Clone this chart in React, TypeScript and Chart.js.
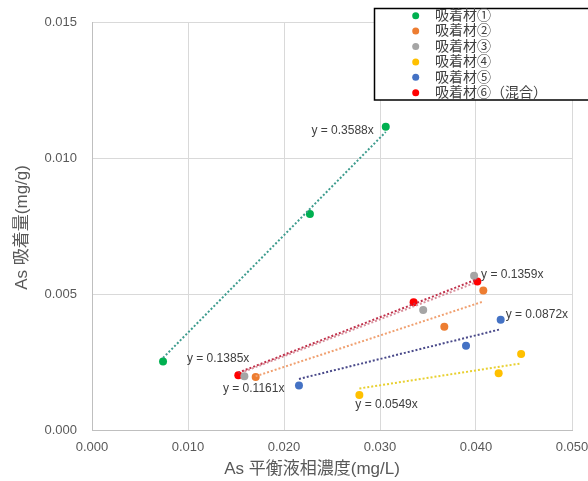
import { useEffect, useRef } from 'react';
import { Chart, registerables } from 'chart.js';

Chart.register(...registerables);

const FONT = '"Liberation Sans", "Noto Sans CJK JP", sans-serif';

// ---- data ----
const seriesNames = ['吸着材①', '吸着材②', '吸着材③', '吸着材④', '吸着材⑤', '吸着材⑥（混合）'];
const s1X = [0.0074, 0.0227, 0.0306];
const s1Y = [0.00252, 0.00796, 0.01117];
const s2X = [0.01705, 0.0367, 0.04076];
const s2Y = [0.00195, 0.0038, 0.00514];
const s3X = [0.01587, 0.0345, 0.0398];
const s3Y = [0.00198, 0.00442, 0.00568];
const s4X = [0.02785, 0.04236, 0.0447];
const s4Y = [0.00129, 0.00209, 0.0028];
const s5X = [0.02156, 0.03896, 0.04257];
const s5Y = [0.00164, 0.0031, 0.00406];
const s6X = [0.01524, 0.0335, 0.04014];
const s6Y = [0.00202, 0.00471, 0.00547];
const slopes = [0.3588, 0.1161, 0.1359, 0.0549, 0.0872, 0.1385];
const slopeLabels = ['y = 0.3588x', 'y = 0.1161x', 'y = 0.1359x', 'y = 0.0549x', 'y = 0.0872x', 'y = 0.1385x'];
const xTitle = 'As 平衡液相濃度(mg/L)';
const yTitle = 'As 吸着量(mg/g)';

// ---- styles ----
const pointColors = ['#00B050', '#ED7D31', '#A5A5A5', '#FFC000', '#4472C4', '#FF0000'];
const trendColors = ['#3E9C8E', '#F0A070', '#D8909C', '#E8D030', '#4A4A8A', '#C0304A'];
// label anchor: which end of trend line, alignment, pixel offsets
const labelAnchors = [
  { end: 'max', align: 'right', dx: -12, dy: -1 },
  { end: 'min', align: 'center', dx: -2, dy: 12 },
  { end: 'max', align: 'left', dx: 7, dy: -8 },
  { end: 'min', align: 'left', dx: -4, dy: 16 },
  { end: 'max', align: 'left', dx: 5, dy: -15 },
  { end: 'min', align: 'right', dx: 11, dy: -14 },
];

const xsAll = [s1X, s2X, s3X, s4X, s5X, s6X];
const ysAll = [s1Y, s2Y, s3Y, s4Y, s5Y, s6Y];

export default function App() {
  const ref = useRef<HTMLCanvasElement>(null);

  useEffect(() => {
    const canvas = ref.current!;
    const trendDatasets = xsAll.map((xs, i) => {
      const minX = Math.min(...xs);
      const maxX = Math.max(...xs);
      return {
        label: 'trend' + i,
        data: [
          { x: minX, y: slopes[i] * minX },
          { x: maxX, y: slopes[i] * maxX },
        ],
        showLine: true,
        borderColor: trendColors[i],
        backgroundColor: trendColors[i],
        borderWidth: 2,
        borderDash: [2, 2],
        pointRadius: 0,
        fill: false,
      };
    });
    const pointDatasets = xsAll.map((xs, i) => ({
      label: seriesNames[i],
      data: xs.map((x, j) => ({ x, y: ysAll[i][j] })),
      showLine: false,
      backgroundColor: pointColors[i],
      borderColor: pointColors[i],
      borderWidth: 0,
      pointRadius: 4,
    }));

    const overlay = {
      id: 'overlay',
      afterDraw(chart: any) {
        const ctx = chart.ctx;
        const xs = chart.scales.x;
        const ys = chart.scales.y;
        const ca = chart.chartArea;
        ctx.save();
        // trendline labels
        ctx.font = '12px ' + FONT;
        ctx.fillStyle = '#404040';
        ctx.textBaseline = 'middle';
        xsAll.forEach((xv, i) => {
          const a = labelAnchors[i];
          const x = a.end === 'max' ? Math.max(...xv) : Math.min(...xv);
          const px = xs.getPixelForValue(x);
          const py = ys.getPixelForValue(slopes[i] * x);
          ctx.textAlign = a.align;
          ctx.fillText(slopeLabels[i], px + a.dx, py + a.dy);
        });
        // axis titles
        ctx.fillStyle = '#595959';
        ctx.font = '17px ' + FONT;
        ctx.textAlign = 'center';
        ctx.textBaseline = 'middle';
        ctx.fillText(xTitle, (ca.left + ca.right) / 2 - 20, 469);
        ctx.save();
        ctx.translate(22, (ca.top + ca.bottom) / 2 + 1);
        ctx.rotate(-Math.PI / 2);
        ctx.fillText(yTitle, 0, 0);
        ctx.restore();
        // legend
        ctx.fillStyle = '#ffffff';
        ctx.fillRect(374.5, 8.5, 220, 91.5);
        ctx.strokeStyle = '#000000';
        ctx.lineWidth = 1.5;
        ctx.strokeRect(374.5, 8.5, 220, 91.5);
        ctx.font = '14px ' + FONT;
        ctx.textAlign = 'left';
        ctx.textBaseline = 'middle';
        seriesNames.forEach((name, i) => {
          const y = 15.7 + i * 15.4;
          ctx.beginPath();
          ctx.arc(415.7, y, 3.5, 0, Math.PI * 2);
          ctx.fillStyle = pointColors[i];
          ctx.fill();
          ctx.fillStyle = '#404040';
          ctx.fillText(name, 435, y + 0.5);
        });
        ctx.restore();
      },
    };

    const chart = new Chart(canvas, {
      type: 'scatter',
      data: { datasets: [...trendDatasets, ...pointDatasets] as any },
      options: {
        responsive: false,
        animation: false,
        layout: { padding: { top: 20, right: 16, left: 0, bottom: 0 } },
        plugins: { legend: { display: false }, tooltip: { enabled: false } },
        scales: {
          x: {
            type: 'linear',
            min: 0,
            max: 0.05,
            ticks: {
              stepSize: 0.01,
              callback: (v: any) => Number(v).toFixed(3),
              font: { size: 13, family: FONT },
              color: '#595959',
              padding: 10,
            },
            grid: { color: '#D9D9D9', drawTicks: false },
            border: { color: '#BFBFBF' },
            afterFit: (s: any) => { s.height = 51; s.paddingRight = 0; s.paddingLeft = 0; },
          },
          y: {
            type: 'linear',
            min: 0,
            max: 0.015,
            ticks: {
              stepSize: 0.005,
              callback: (v: any) => Number(v).toFixed(3),
              font: { size: 13, family: FONT },
              color: '#595959',
              padding: 15,
            },
            grid: { color: '#D9D9D9', drawTicks: false },
            border: { color: '#BFBFBF' },
            afterFit: (s: any) => { s.width = 92; },
          },
        },
      },
      plugins: [overlay],
    });
    return () => chart.destroy();
  }, []);

  return (
    <canvas
      ref={ref}
      width={588}
      height={481}
      style={{ position: 'absolute', left: 0, top: 0, display: 'block' }}
    />
  );
}
